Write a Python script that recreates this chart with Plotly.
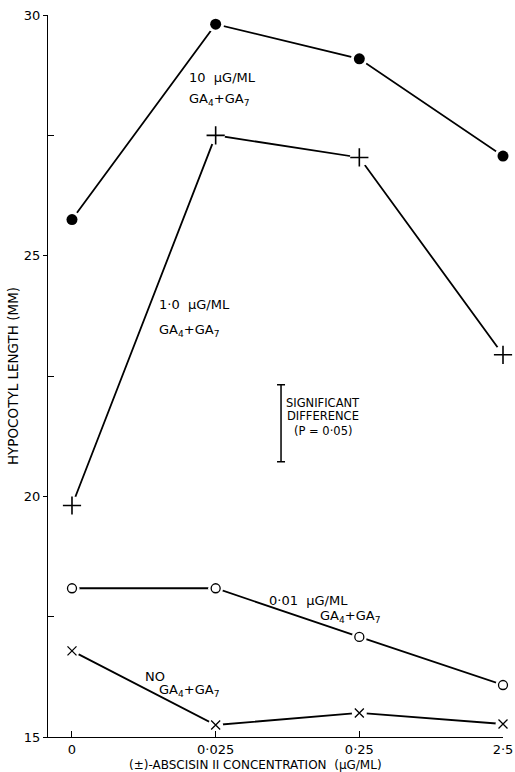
import plotly.graph_objects as go

# Data
conc_labels = ["0", "0·025", "0·25", "2·5"]
x_idx = [0, 1, 2, 3]
ga_10 = [25.75, 29.81, 29.09, 27.07]
ga_1 = [19.81, 27.50, 27.04, 22.94]
ga_001 = [18.09, 18.09, 17.08, 16.08]
ga_none = [16.79, 15.25, 15.50, 15.27]
sig_x = [1.455]
sig_center = [21.52]
sig_half = [0.80]

FONT = "DejaVu Sans"
fig = go.Figure()

series = [
    (ga_10, "circle", 11, None),
    (ga_1, "cross-thin", 13, 1.6),
    (ga_001, "circle-open", 9, 1.3),
    (ga_none, "x-thin", 9, 1.3),
]
for ys, sym, size, lw in series:
    fig.add_trace(go.Scatter(x=x_idx, y=ys, mode="lines",
                             line=dict(color="black", width=1.8),
                             hoverinfo="skip", showlegend=False, cliponaxis=False))
for ys, sym, size, lw in series:
    # white halo so lines stop short of the marker
    fig.add_trace(go.Scatter(x=x_idx, y=ys, mode="markers",
                             marker=dict(symbol="circle", size=size + 6, color="white",
                                         line=dict(width=0)),
                             hoverinfo="skip", showlegend=False, cliponaxis=False))
for ys, sym, size, lw in series:
    mk = dict(symbol=sym, size=size, color="black")
    if lw is not None:
        mk["line"] = dict(color="black", width=lw)
    fig.add_trace(go.Scatter(x=x_idx, y=ys, mode="markers", marker=mk,
                             showlegend=False, cliponaxis=False))

# significant difference bar
fig.add_trace(go.Scatter(x=sig_x, y=sig_center, mode="markers",
                         marker=dict(size=0.1, color="rgba(0,0,0,0)"),
                         error_y=dict(type="data", array=sig_half, color="black",
                                      thickness=1.5, width=4),
                         showlegend=False, hoverinfo="skip"))

def ann(x, y, text, size=13, xanchor="left"):
    fig.add_annotation(x=x, y=y, text=text, showarrow=False, xref="x", yref="y",
                       xanchor=xanchor, yanchor="middle",
                       font=dict(family=FONT, size=size, color="black"))

GA = "GA<sub>4</sub>+GA<sub>7</sub>"
ann(0.80, 28.71, "10  μG/ML")
ann(0.80, 28.25, GA)
ann(0.59, 23.99, "1·0  μG/ML")
ann(0.59, 23.45, GA)
ann(1.75, 21.93, "SIGNIFICANT", size=11.5, xanchor="center")
ann(1.75, 21.66, "DIFFERENCE", size=11.5, xanchor="center")
ann(1.75, 21.35, "(P = 0·05)", size=11.5, xanchor="center")
ann(1.357, 17.84, "0·01  μG/ML")
ann(1.712, 17.50, GA)
ann(0.494, 16.25, "NO")
ann(0.59, 15.96, GA)

# x-axis title (placed slightly left of centre, as in the reference)
fig.add_annotation(x=0.455, y=0, xref="paper", yref="paper", yshift=-28,
                   xanchor="center", yanchor="middle", showarrow=False,
                   text="(±)-ABSCISIN II CONCENTRATION  (μG/ML)",
                   font=dict(family=FONT, size=12, color="black"))

fig.update_layout(
    width=515, height=772,
    margin=dict(l=48, r=12, t=15, b=35),
    paper_bgcolor="white", plot_bgcolor="white",
    font=dict(family=FONT, size=13, color="black"),
    showlegend=False,
    xaxis=dict(range=[-0.167, 3.0], tickvals=x_idx, ticktext=conc_labels,
               automargin=False,
               showline=True, linecolor="black", linewidth=1.2,
               ticks="inside", ticklen=6, tickcolor="black",
               showgrid=False, zeroline=False),
    yaxis=dict(range=[15, 30], tickvals=[15, 20, 25, 30],
               automargin=False,
               showline=True, linecolor="black", linewidth=1.2,
               ticks="outside", ticklen=4, tickcolor="black",
               minor=dict(tickvals=[17.5, 22.5, 27.5], ticks="inside", ticklen=6,
                          tickcolor="black"),
               showgrid=False, zeroline=False,
               title=dict(text="HYPOCOTYL LENGTH (MM)", font=dict(size=13.5), standoff=2)),
)

fig.write_html("out.html", config={"displayModeBar": False},
               post_script="document.body.style.margin='0px';"
                           "document.body.style.overflow='hidden';")
